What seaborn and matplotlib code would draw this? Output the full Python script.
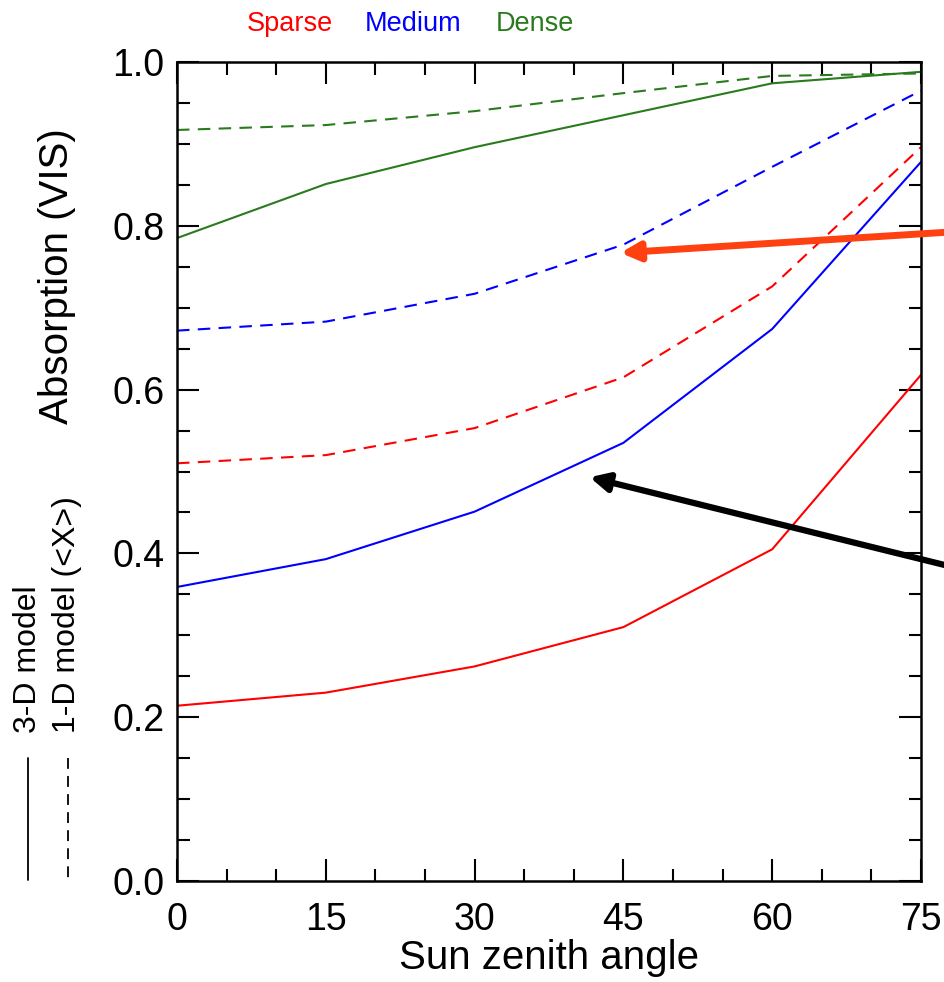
import pandas as pd
import seaborn as sns
import matplotlib.pyplot as plt

# sun zenith angles (deg)
angles = [0, 15, 30, 45, 60, 75]

# absorption in the visible, 3-D model (solid) and 1-D model <X> (dashed)
sparse_3d = [0.214, 0.230, 0.262, 0.310, 0.405, 0.618]
sparse_1d = [0.510, 0.520, 0.553, 0.615, 0.726, 0.896]
medium_3d = [0.359, 0.393, 0.451, 0.535, 0.674, 0.878]
medium_1d = [0.672, 0.683, 0.717, 0.777, 0.872, 0.965]
dense_3d = [0.785, 0.851, 0.896, 0.935, 0.974, 0.988]
dense_1d = [0.917, 0.923, 0.940, 0.962, 0.983, 0.986]

canopies = ['Sparse', 'Medium', 'Dense']
colors = {'Sparse': '#ff0000', 'Medium': '#0000ff', 'Dense': '#2a7a1e'}

rows = []
for name, s3, s1 in [('Sparse', sparse_3d, sparse_1d),
                     ('Medium', medium_3d, medium_1d),
                     ('Dense', dense_3d, dense_1d)]:
    for a, v in zip(angles, s3):
        rows.append({'angle': a, 'absorption': v, 'canopy': name, 'model': '3-D'})
    for a, v in zip(angles, s1):
        rows.append({'angle': a, 'absorption': v, 'canopy': name, 'model': '1-D'})
df = pd.DataFrame(rows)

sns.set_style('ticks')
plt.rcParams['font.family'] = ['Liberation Sans', 'DejaVu Sans']
plt.rcParams['text.color'] = 'black'
plt.rcParams['axes.labelcolor'] = 'black'
plt.rcParams['xtick.color'] = 'black'
plt.rcParams['ytick.color'] = 'black'
plt.rcParams['axes.edgecolor'] = 'black'

fig = plt.figure(figsize=(9.45, 9.82), dpi=100)
ax = fig.add_axes([177 / 945, 1 - 881 / 982, 744 / 945, 819 / 982])

sns.lineplot(data=df, x='angle', y='absorption', hue='canopy', style='model',
             palette=colors, dashes={'3-D': '', '1-D': (6, 4)},
             linewidth=1.5, legend=False, ax=ax)

ax.set_xlim(0, 75)
ax.set_ylim(0, 1.0)
ax.set_xticks(angles)
ax.set_xticks(range(0, 76, 5), minor=True)
ax.set_yticks([0, 0.2, 0.4, 0.6, 0.8, 1.0])
ax.set_yticks([i * 0.05 for i in range(21)], minor=True)
ax.set_yticklabels(['0.0', '0.2', '0.4', '0.6', '0.8', '1.0'])
ax.tick_params(which='both', direction='in', top=True, right=True, width=1.5,
               labelsize=27)
ax.tick_params(axis='y', pad=9)
ax.tick_params(axis='x', pad=15)
ax.tick_params(which='major', length=16)
ax.tick_params(which='minor', length=9)
for sp in ax.spines.values():
    sp.set_linewidth(1.8)
ax.set_xlabel('Sun zenith angle', fontsize=29, labelpad=1)
ax.set_ylabel('')
fig.text(57 / 945, 1 - 276 / 982, 'Absorption (VIS)', rotation=90, fontsize=29,
         ha='center', va='center')

# canopy labels above the plot
for name, xp in zip(canopies, [290, 413, 535]):
    fig.text(xp / 945, 1 - 24 / 982, name, color=colors[name], fontsize=19.5,
             ha='center', va='center')

# line-style key on the left
fig.text(28 / 945, 1 - 733 / 982, '3-D model', rotation=90, fontsize=23,
         ha='center', va='bottom')
fig.text(67 / 945, 1 - 733 / 982, '1-D model (<X>)', rotation=90, fontsize=23,
         ha='center', va='bottom')
fig.add_artist(plt.Line2D([28 / 945, 28 / 945], [1 - 758 / 982, 1 - 880 / 982],
                          color='black', lw=1.3, transform=fig.transFigure))
fig.add_artist(plt.Line2D([68 / 945, 68 / 945], [1 - 758 / 982, 1 - 880 / 982],
                          color='black', lw=1.3, ls=(0, (6, 4)),
                          transform=fig.transFigure))

# arrows pointing at curves
ax.annotate('', xy=(44.7, 0.767), xytext=(80, 0.794),
            arrowprops=dict(arrowstyle='-|>,head_length=1.1,head_width=0.55',
                            color='#ff4010', lw=5, shrinkA=0, shrinkB=0),
            annotation_clip=False)
ax.annotate('', xy=(41.6, 0.493), xytext=(80, 0.378),
            arrowprops=dict(arrowstyle='-|>,head_length=1.1,head_width=0.55',
                            color='black', lw=4.5, shrinkA=0, shrinkB=0),
            annotation_clip=False)

fig.savefig('out.png', dpi=100)
